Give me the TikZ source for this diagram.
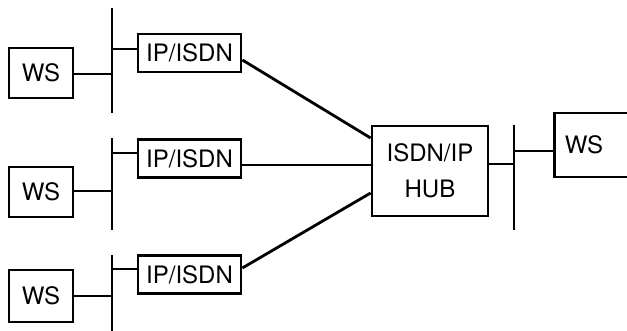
\documentclass[tikz,border=0pt]{standalone}
\usepackage{fontspec}
\setmainfont{TeX Gyre Heros}
\begin{document}
\begin{tikzpicture}[x=1pt,y=-1pt,
  lw/.style={line width=2.8pt},
  box/.style={draw,lw,inner sep=0pt,font=\fontsize{24}{36}\selectfont},
  wsbox/.style={box,minimum width=64pt,minimum height=50pt},
  ipbox/.style={box,minimum width=103pt,minimum height=38pt},
  conn/.style={lw}]
\clip (0,0) rectangle (627,331);
\useasboundingbox (0,0) rectangle (627,331);
% workstations
\node[wsbox] (ws1) at (41,73) {WS};
\node[wsbox] (ws2) at (41,192) {WS};
\node[wsbox,minimum height=52pt] (ws3) at (41,296) {WS};
% IP/ISDN routers
\node[ipbox] (ip1) at (189.5,53) {IP/ISDN};
\node[ipbox] (ip2) at (189.5,158.5) {IP/ISDN};
\node[ipbox] (ip3) at (189.5,274.5) {IP/ISDN};
% hub
\node[box,minimum width=116pt,minimum height=90pt,align=center] (hub) at (430,171) {ISDN/IP\\HUB};
% right workstation (cut off by the picture edge)
\node[box,minimum width=110pt,minimum height=64pt,anchor=west] (wsr) at (553,145) {};
\node[font=\fontsize{24}{36}\selectfont,inner sep=0pt] (wsrt) at (584,145) {WS};
% buses
\coordinate (b1t) at (112,8);   \coordinate (b1b) at (112,113);
\coordinate (b2t) at (112,138); \coordinate (b2b) at (112,230);
\coordinate (b3t) at (112,255); \coordinate (b3b) at (112,333);
\coordinate (brt) at (514,125); \coordinate (brb) at (514,230);
\draw[conn] (b1t) -- (b1b);
\draw[conn] (b2t) -- (b2b);
\draw[conn] (b3t) -- (b3b);
\draw[conn] (brt) -- (brb);
% workstation to bus
\draw[conn] ([yshift=-1pt]ws1.east) -- ([yshift=-1pt]ws1.east -| b1t);
\draw[conn] ([yshift=1pt]ws2.east) -- ([yshift=1pt]ws2.east -| b2t);
\draw[conn] (ws3.east) -- (ws3.east -| b3t);
% bus to routers
\draw[conn] ([yshift=4pt]ip1.west -| b1t) -- ([yshift=4pt]ip1.west);
\draw[conn] ([yshift=5.5pt]ip2.west -| b2t) -- ([yshift=5.5pt]ip2.west);
\draw[conn] ([yshift=5.5pt]ip3.west -| b3t) -- ([yshift=5.5pt]ip3.west);
% routers to hub
\draw[conn] ([yshift=-7pt]ip1.east) -- ([yshift=33pt]hub.west);
\draw[conn] ([yshift=-6.5pt]ip2.east) -- ([yshift=6pt]hub.west);
\draw[conn] ([yshift=6.5pt]ip3.east) -- ([yshift=-22pt]hub.west);
% hub to right bus and workstation
\draw[conn] ([yshift=7pt]hub.east) -- ([yshift=7pt]hub.east -| brt);
\draw[conn] ([yshift=-6pt]wsr.west -| brt) -- ([yshift=-6pt]wsr.west);
\end{tikzpicture}
\end{document}
